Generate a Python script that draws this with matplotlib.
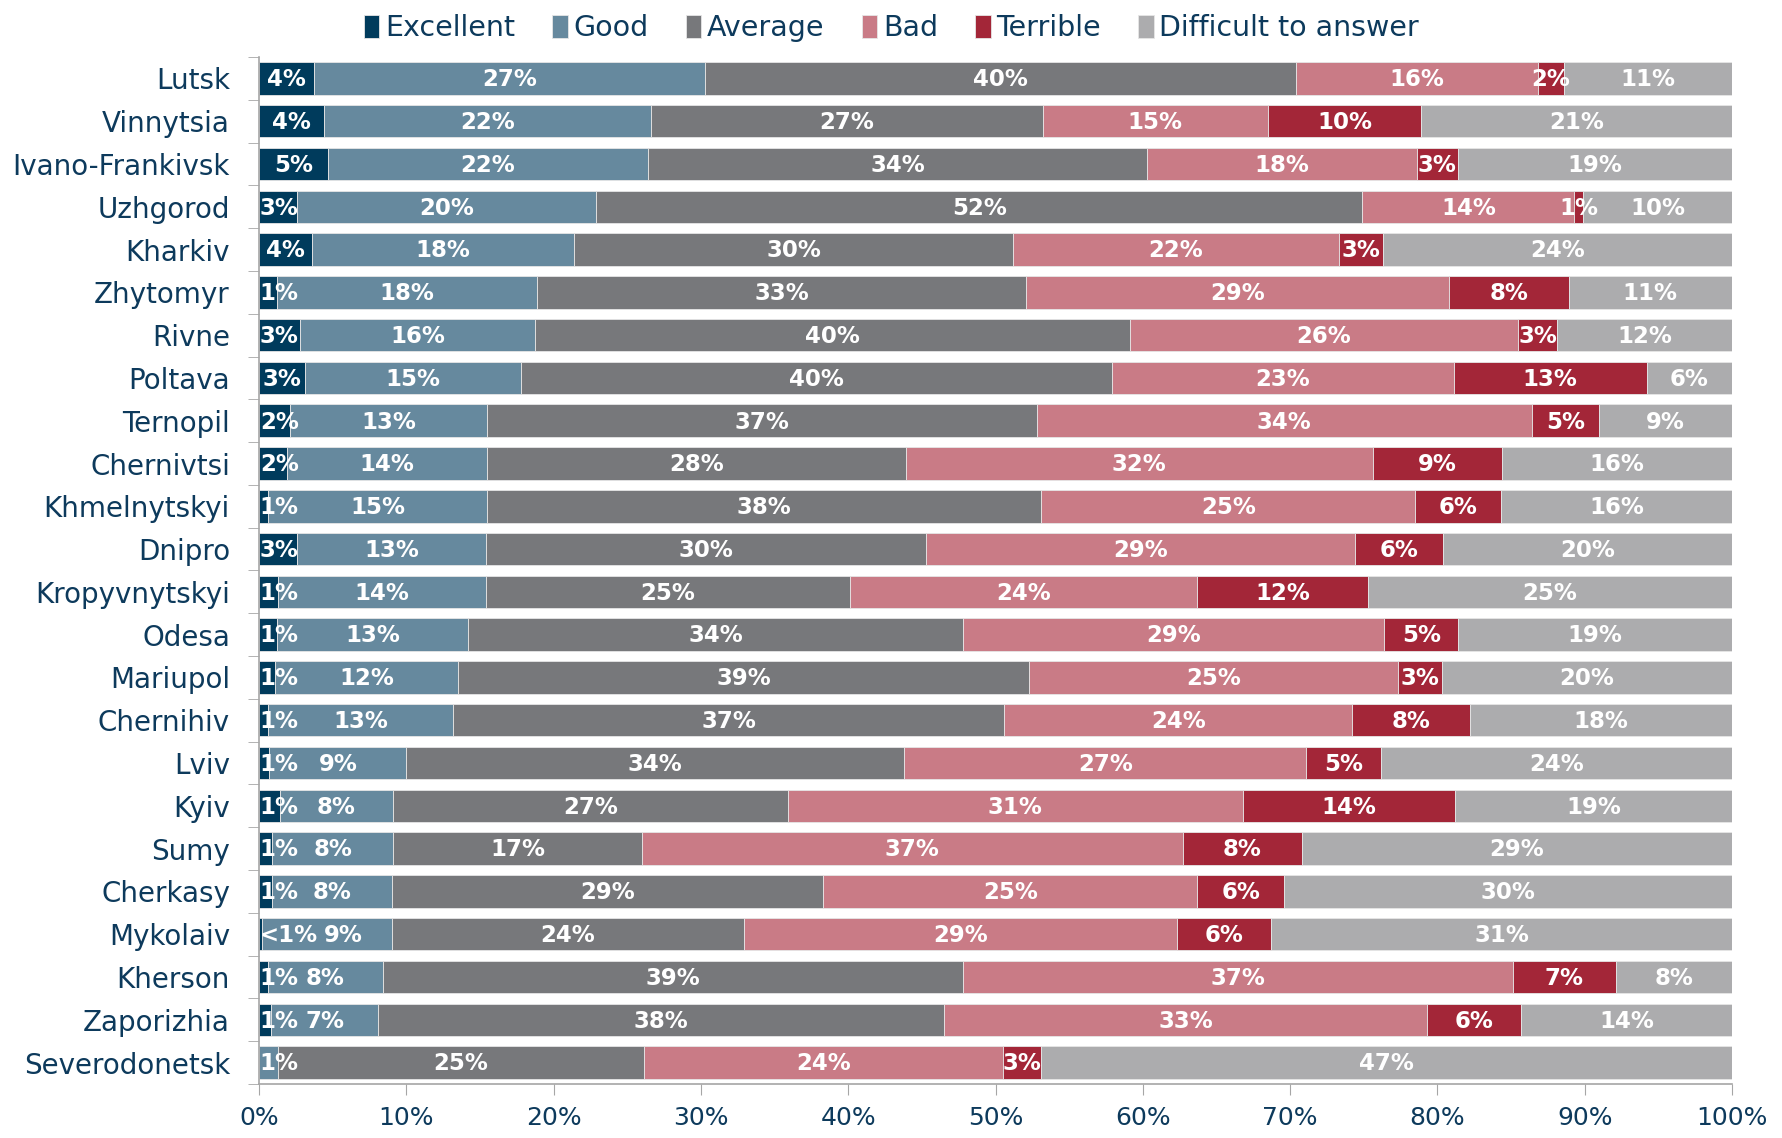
import matplotlib
matplotlib.use("Agg")
import matplotlib.pyplot as plt
import numpy as np

plt.rcParams['font.family'] = ['DejaVu Sans']

cities = ["Lutsk", "Vinnytsia", "Ivano-Frankivsk", "Uzhgorod", "Kharkiv", "Zhytomyr",
          "Rivne", "Poltava", "Ternopil", "Chernivtsi", "Khmelnytskyi", "Dnipro",
          "Kropyvnytskyi", "Odesa", "Mariupol", "Chernihiv", "Lviv", "Kyiv", "Sumy",
          "Cherkasy", "Mykolaiv", "Kherson", "Zaporizhia", "Severodonetsk"]

series_names = ["Excellent", "Good", "Average", "Bad", "Terrible", "Difficult to answer"]

# shares in %
excellent = [3.7, 4.4, 4.7, 2.6, 3.6, 1.2, 2.8, 3.1, 2.1, 1.9, 0.6, 2.6,
             1.3, 1.2, 1.1, 0.6, 0.7, 1.4, 0.9, 0.9, 0.2, 0.6, 0.8, 0.0]
good = [26.6, 22.2, 21.7, 20.3, 17.8, 17.7, 15.9, 14.7, 13.4, 13.6, 14.9, 12.8,
        14.1, 13.0, 12.4, 12.6, 9.3, 7.7, 8.2, 8.1, 8.8, 7.8, 7.3, 1.3]
average = [40.1, 26.6, 33.9, 52.0, 29.8, 33.2, 40.4, 40.1, 37.3, 28.4, 37.6, 29.9,
           24.7, 33.6, 38.8, 37.4, 33.8, 26.8, 16.9, 29.3, 23.9, 39.4, 38.4, 24.8]
bad = [16.4, 15.3, 18.3, 14.4, 22.1, 28.7, 26.4, 23.2, 33.6, 31.7, 25.4, 29.1,
       23.6, 28.6, 25.0, 23.6, 27.3, 30.9, 36.7, 25.4, 29.4, 37.3, 32.8, 24.4]
terrible = [1.8, 10.4, 2.8, 0.6, 3.0, 8.1, 2.6, 13.1, 4.6, 8.8, 5.8, 6.0,
            11.6, 5.0, 3.0, 8.0, 5.1, 14.4, 8.1, 5.9, 6.4, 7.0, 6.4, 2.6]
difficult = [11.4, 21.1, 18.6, 10.1, 23.7, 11.1, 11.9, 5.8, 9.0, 15.6, 15.7, 19.6,
             24.7, 18.6, 19.7, 17.8, 23.8, 18.8, 29.2, 30.4, 31.3, 7.9, 14.3, 46.9]

colors = ["#003b5c", "#66899e", "#77787b", "#c97b86", "#a32638", "#acacae"]
navy = "#0d3a5c"
axis_gray = "#a6a6a6"

data = [excellent, good, average, bad, terrible, difficult]

fig = plt.figure(figsize=(17.83, 11.38), dpi=100)
ax = fig.add_axes([0.1453, 0.0475, 0.8261, 0.9024])

y = np.arange(len(cities))
left = np.zeros(len(cities))
row_texts = [[] for _ in cities]
for name, vals, col in zip(series_names, data, colors):
    vals = np.array(vals)
    ax.barh(y, vals, left=left, height=0.76, color=col, label=name,
            edgecolor="#e6e6e6", linewidth=0.6)
    for i, v in enumerate(vals):
        if v <= 0:
            continue
        txt = "<1%" if v < 0.5 else f"{int(v + 0.5)}%"
        if left[i] == 0 and v < 3.0:
            t = ax.text(0.05, i + 0.03, txt, ha="left", va="center", color="white",
                        fontsize=16.5, fontweight="bold")
        else:
            t = ax.text(left[i] + v / 2, i + 0.03, txt, ha="center", va="center",
                        color="white", fontsize=16.5, fontweight="bold")
        row_texts[i].append(t)
    left += vals

ax.set_xlim(0, 100)
ax.set_ylim(len(cities) - 0.5, -0.5)
ax.set_xticks(np.arange(0, 101, 10))
ax.set_xticklabels([f"{t}%" for t in range(0, 101, 10)], color=navy, fontsize=18)
ax.set_yticks(y)
ax.set_yticklabels(cities, color=navy, fontsize=20)
ax.set_yticks(np.arange(-0.5, len(cities), 1), minor=True)
ax.tick_params(axis="y", which="major", length=0, pad=21)
ax.tick_params(axis="y", which="minor", length=8, color=axis_gray, direction="out")
ax.tick_params(axis="x", length=8, color=axis_gray, direction="out", pad=8)

for s in ["top", "right"]:
    ax.spines[s].set_visible(False)
for s in ["left", "bottom"]:
    ax.spines[s].set_color(axis_gray)
    ax.spines[s].set_linewidth(1.2)

leg = fig.legend(loc="upper center", bbox_to_anchor=(0.5, 1.01), ncol=6, frameon=False,
                 fontsize=20.5, handlelength=0.55, handleheight=0.85, handletextpad=0.2,
                 columnspacing=1.3)
for t in leg.get_texts():
    t.set_color(navy)

# nudge labels that run into the one on their left
fig.canvas.draw()
rend = fig.canvas.get_renderer()
inv = ax.transData.inverted()
for texts in row_texts:
    for a, b in zip(texts[:2], texts[1:3]):
        ea = a.get_window_extent(rend)
        eb = b.get_window_extent(rend)
        gap = eb.x0 - ea.x1
        if gap < 6:
            dx = inv.transform((6 - gap, 0))[0] - inv.transform((0, 0))[0]
            x0, y0 = b.get_position()
            b.set_position((x0 + dx, y0))

fig.savefig("out.png", dpi=100)
